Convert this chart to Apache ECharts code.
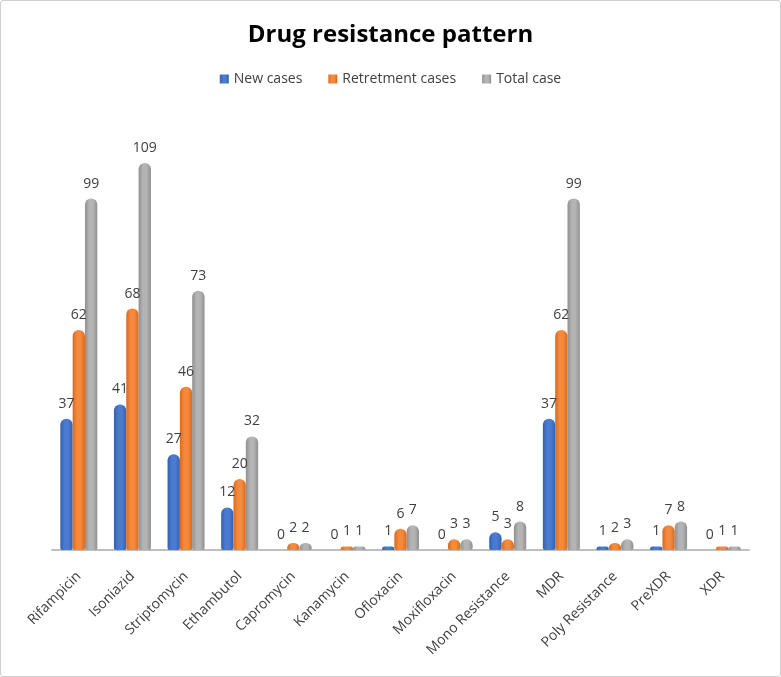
<!DOCTYPE html>
<html><head><meta charset="utf-8">
<script src="https://cdn.jsdelivr.net/npm/echarts@6/dist/echarts.min.js"></script>
<style>
html,body{margin:0;padding:0;background:#fff;}
#c{width:779px;height:675px;border:1px solid #d0d0d0;border-radius:3px;}
</style></head><body>
<div id="c"></div>
<script>
const categories = ["Rifampicin","Isoniazid","Striptomycin","Ethambutol","Capromycin","Kanamycin","Ofloxacin","Moxifloxacin","Mono Resistance","MDR","Poly Resistance","PreXDR","XDR"];
const newCases = [37,41,27,12,0,0,1,0,5,37,1,1,0];
const retreatmentCases = [62,68,46,20,2,1,6,3,3,62,2,7,1];
const totalCases = [99,109,73,32,2,1,7,3,8,99,3,8,1];
const seriesNames = ["New cases","Retretment cases","Total case"];

function grad(c1,c2){
  return new echarts.graphic.LinearGradient(0,0,1,0,[
    {offset:0,color:c2},{offset:0.35,color:c1},{offset:0.65,color:c1},{offset:1,color:c2}]);
}
const colors = [["#4a7bd0","#3461b0"],["#f5893c","#d86a20"],["#b4b4b4","#8f8f8f"]];
const flat = ["#4472C4","#ED7D31","#A5A5A5"];
const dataSets = [newCases, retreatmentCases, totalCases];

const chart = echarts.init(document.getElementById('c'));
chart.setOption({
  animation:false,
  color: flat,
  title:{text:"Drug resistance pattern",left:'center',top:17,
    textStyle:{fontFamily:"Open Sans",fontWeight:'bold',fontSize:24,color:'#000'}},
  legend:{top:66,left:'center',itemWidth:9,itemHeight:9,itemGap:26,icon:'rect',
    textStyle:{fontFamily:"Open Sans",fontSize:14,color:'#404040'},data:seriesNames},
  grid:{left:51,right:31,top:123,bottom:126,containLabel:false},
  xAxis:{type:'category',data:categories,
    axisLine:{show:true,lineStyle:{color:'#bfbfbf',width:2}},
    axisTick:{show:false},
    axisLabel:{rotate:45,interval:0,fontFamily:"Open Sans",fontSize:14,color:'#404040',margin:24}},
  yAxis:{type:'value',min:0,max:120,interval:20,show:false,splitLine:{show:false}},
  series: dataSets.map((d,i)=>({
    name:seriesNames[i],type:'bar',data:d,barGap:'0%',barCategoryGap:'31%',
    itemStyle:{color:grad(colors[i][0],colors[i][1]),borderRadius:[6,6,2,2]},
    label:{show:true,position:'top',distance:8,fontFamily:"Open Sans",fontSize:14,color:'#404040'}
  }))
});
</script>
</body></html>
